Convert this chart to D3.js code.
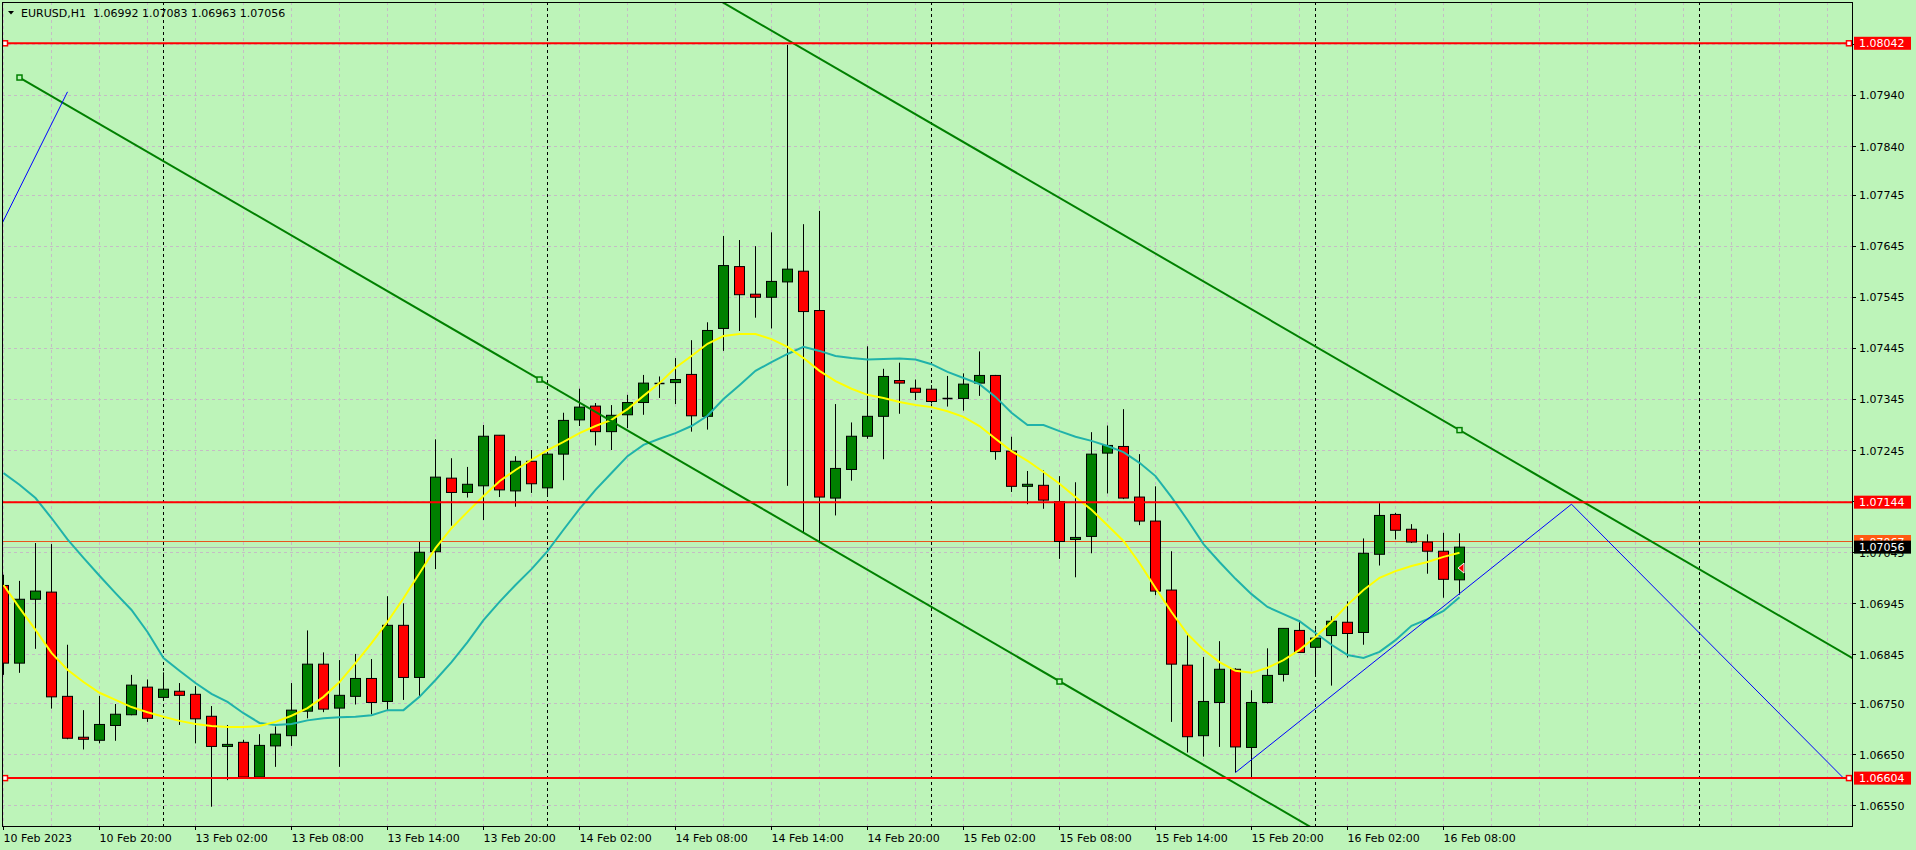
<!DOCTYPE html>
<html>
<head>
<meta charset="utf-8">
<script src="https://cdn.jsdelivr.net/npm/d3@7"></script>
<style>
html,body{margin:0;padding:0;background:#bdf4b9;overflow:hidden;}
svg{display:block;font-family:"DejaVu Sans",sans-serif;}
</style>
</head>
<body>
<svg id="chart" width="1916" height="850"></svg>
<script>
// ---------------- DATA ----------------
const symbolTitle = "EURUSD,H1";
const headerValues = ["1.06992", "1.07083", "1.06963", "1.07056"];

// H1 bars, index 0 = 10 Feb 2023 14:00 ... index 91 = 16 Feb 2023 09:00
const open = [
1.06981,1.06829,1.06954,1.06968,1.06764,1.06684,1.06678,1.06707,1.06728,1.06782,
1.06762,1.06774,1.06768,1.06725,1.06666,1.06674,1.06606,1.06667,1.06687,1.06735,
1.06827,1.06741,1.06764,1.06799,1.06754,1.06903,1.06801,1.07047,1.07191,1.07163,
1.07176,1.07275,1.07166,1.07224,1.07172,1.07238,1.07305,1.07332,1.07282,1.07315,
1.07339,1.07377,1.07378,1.07394,1.07312,1.07484,1.07605,1.07551,1.07545,1.07575,
1.07596,1.07519,1.07152,1.07208,1.07273,1.07312,1.07382,1.07367,1.07365,1.07346,
1.07347,1.07377,1.07392,1.07244,1.07175,1.07177,1.07145,1.07071,1.07077,1.07240,
1.07253,1.07154,1.07107,1.06972,1.06825,1.06687,1.06752,1.06817,1.06664,1.06752,
1.06807,1.06893,1.06860,1.06883,1.06909,1.06889,1.07042,1.07120,1.07091,1.07066,
1.07048,1.06992];
const high = [
1.07002,1.06990,1.07064,1.07062,1.06865,1.06737,1.06765,1.06749,1.06806,1.06797,
1.06811,1.06790,1.06784,1.06745,1.06708,1.06679,1.06690,1.06705,1.06790,1.06893,
1.06850,1.06835,1.06847,1.06837,1.06960,1.06946,1.07066,1.07267,1.07230,1.07213,
1.07295,1.07275,1.07234,1.07246,1.07242,1.07319,1.07366,1.07338,1.07334,1.07354,
1.07393,1.07390,1.07426,1.07461,1.07496,1.07665,1.07657,1.07645,1.07672,1.08039,
1.07688,1.07714,1.07336,1.07300,1.07449,1.07405,1.07417,1.07384,1.07373,1.07391,
1.07396,1.07439,1.07393,1.07272,1.07205,1.07206,1.07195,1.07183,1.07281,1.07294,
1.07326,1.07238,1.07175,1.07048,1.06885,1.06841,1.06872,1.06819,1.06776,1.06858,
1.06897,1.06913,1.06895,1.06921,1.06950,1.07073,1.07142,1.07123,1.07101,1.07081,
1.07084,1.07083];
const low = [
1.06806,1.06810,1.06857,1.06740,1.06680,1.06660,1.06672,1.06677,1.06727,1.06714,
1.06757,1.06708,1.06672,1.06548,1.06600,1.06605,1.06605,1.06626,1.06667,1.06721,
1.06733,1.06626,1.06748,1.06729,1.06737,1.06757,1.06763,1.07013,1.07098,1.07153,
1.07109,1.07154,1.07135,1.07162,1.07158,1.07187,1.07293,1.07255,1.07246,1.07289,
1.07315,1.07348,1.07336,1.07282,1.07286,1.07440,1.07479,1.07505,1.07484,1.07176,
1.07085,1.07064,1.07118,1.07186,1.07268,1.07228,1.07317,1.07344,1.07337,1.07331,
1.07323,1.07352,1.07227,1.07164,1.07140,1.07131,1.07033,1.06997,1.07044,1.07161,
1.07150,1.07099,1.06962,1.06714,1.06654,1.06646,1.06665,1.06615,1.06602,1.06750,
1.06793,1.06850,1.06802,1.06785,1.06840,1.06865,1.07020,1.07071,1.07064,1.07004,
1.06957,1.06963];
const close = [
1.06829,1.06954,1.06970,1.06763,1.06682,1.06680,1.06709,1.06729,1.06786,1.06721,
1.06778,1.06766,1.06720,1.06666,1.06670,1.06606,1.06668,1.06690,1.06737,1.06827,
1.06739,1.06766,1.06799,1.06752,1.06903,1.06801,1.07046,1.07193,1.07163,1.07179,
1.07273,1.07168,1.07224,1.07180,1.07238,1.07304,1.07330,1.07282,1.07314,1.07339,
1.07377,1.07377,1.07384,1.07313,1.07480,1.07607,1.07550,1.07545,1.07576,1.07600,
1.07517,1.07154,1.07210,1.07273,1.07312,1.07390,1.07377,1.07359,1.07341,1.07346,
1.07375,1.07392,1.07243,1.07175,1.07179,1.07148,1.07067,1.07075,1.07238,1.07255,
1.07152,1.07107,1.06970,1.06827,1.06685,1.06754,1.06817,1.06665,1.06752,1.06805,
1.06897,1.06850,1.06878,1.06911,1.06887,1.07044,1.07118,1.07089,1.07066,1.07048,
1.06993,1.07056];

// yellow (fast) moving average
const maFast = [
1.06982,1.06937,1.06894,1.06849,1.06816,1.06792,1.06771,1.06757,1.06743,1.06733,
1.06724,1.06716,1.06710,1.06706,1.06704,1.06704,1.06706,1.06714,1.06726,1.06741,
1.06763,1.06792,1.06829,1.06868,1.06910,1.06956,1.07005,1.07054,1.07093,1.07125,
1.07156,1.07185,1.07207,1.07227,1.07246,1.07262,1.07279,1.07293,1.07305,1.07326,
1.07352,1.07377,1.07407,1.07430,1.07454,1.07469,1.07473,1.07473,1.07463,1.07448,
1.07426,1.07401,1.07381,1.07366,1.07354,1.07348,1.07340,1.07334,1.07330,1.07322,
1.07311,1.07293,1.07268,1.07244,1.07225,1.07203,1.07180,1.07154,1.07129,1.07099,
1.07068,1.07025,1.06976,1.06929,1.06886,1.06855,1.06831,1.06814,1.06810,1.06820,
1.06835,1.06855,1.06880,1.06910,1.06943,1.06972,1.06996,1.07009,1.07019,1.07027,
1.07037,1.07045];
// teal (slow) moving average
const maSlow = [
1.07201,1.07178,1.07152,1.07113,1.07071,1.07035,1.07000,1.06966,1.06933,1.06890,
1.06839,1.06814,1.06790,1.06769,1.06753,1.06731,1.06712,1.06708,1.06710,1.06717,
1.06721,1.06723,1.06724,1.06727,1.06737,1.06737,1.06763,1.06796,1.06831,1.06870,
1.06913,1.06949,1.06982,1.07013,1.07048,1.07090,1.07131,1.07168,1.07201,1.07234,
1.07256,1.07268,1.07279,1.07293,1.07313,1.07346,1.07373,1.07401,1.07418,1.07434,
1.07448,1.07440,1.07430,1.07426,1.07423,1.07424,1.07425,1.07423,1.07414,1.07399,
1.07387,1.07375,1.07350,1.07319,1.07295,1.07295,1.07283,1.07272,1.07264,1.07254,
1.07242,1.07221,1.07195,1.07154,1.07109,1.07062,1.07027,1.06994,1.06964,1.06939,
1.06925,1.06911,1.06888,1.06865,1.06845,1.06839,1.06851,1.06874,1.06902,1.06915,
1.06931,1.06958];

// axes
const yTicks = [1.0804,1.0794,1.0784,1.07745,1.07645,1.07545,1.07445,1.07345,1.07245,1.07145,1.07045,1.06945,1.06845,1.0675,1.0665,1.0655];
const xTickBars = [0,6,12,18,24,30,36,42,48,54,60,66,72,78,84,90];
const xTickLabels = ["10 Feb 2023","10 Feb 20:00","13 Feb 02:00","13 Feb 08:00","13 Feb 14:00","13 Feb 20:00",
  "14 Feb 02:00","14 Feb 08:00","14 Feb 14:00","14 Feb 20:00","15 Feb 02:00","15 Feb 08:00",
  "15 Feb 14:00","15 Feb 20:00","16 Feb 02:00","16 Feb 08:00"];
const daySeparatorBars = [10,34,58,82,106];

// chart objects
const redLevels = [1.08042, 1.07144, 1.06604];
const selectedRedLevels = [1.08042, 1.06604];
const alertLevel = 1.07067;
const bidLevel = 1.07056;
const blueLineA = [[-1, 1.07632],[4, 1.07947]];
const blueZigzag = [[77, 1.06615],[98, 1.07140],[115, 1.06604]];
const channelBase = [[1, 1.07975],[120, 1.05812]];
const channelParallel = [[1, 1.08921],[120, 1.06758]];
const channelAnchors = [[1, 1.07975],[33.5, 1.07384],[66, 1.06793],[91, 1.07285]];
const arrowMarker = {bar: 91, price: 1.07015};

// ---------------- LAYOUT ----------------
const W = 1916, H = 850;
const plot = {left: 2, right: 1852, top: 2, bottom: 826};
const bg = "#bdf4b9";
const gridColor = "#c5bcc5";
const bull = "#008000", bear = "#ff0000";

const x = d3.scaleLinear().domain([-0.09375, 115.53125]).range([plot.left, plot.right]);
const y = d3.scaleLinear().domain([1.0655, 1.0804]).range([805.7, 44.31]);
const crisp = v => Math.round(v - 0.5) + 0.5;

const svg = d3.select("#chart");
svg.append("rect").attr("width", W).attr("height", H).attr("fill", bg);

svg.append("defs").append("clipPath").attr("id", "plotClip").append("rect")
  .attr("x", plot.left + 1).attr("y", plot.top + 1)
  .attr("width", plot.right - plot.left - 1).attr("height", plot.bottom - plot.top - 1);

const g = svg.append("g").attr("clip-path", "url(#plotClip)");

// grid
g.append("g").selectAll("line").data(yTicks).join("line")
  .attr("x1", plot.left).attr("x2", plot.right)
  .attr("y1", d => crisp(y(d))).attr("y2", d => crisp(y(d)))
  .attr("stroke", gridColor).attr("stroke-dasharray", "3,3");
g.append("g").selectAll("line").data(d3.range(0, 116, 3)).join("line")
  .attr("x1", d => x(d)).attr("x2", d => x(d))
  .attr("y1", plot.top).attr("y2", plot.bottom)
  .attr("stroke", gridColor).attr("stroke-dasharray", "3,3");

// day separators
g.append("g").selectAll("line").data(daySeparatorBars).join("line")
  .attr("x1", d => x(d)).attr("x2", d => x(d))
  .attr("y1", plot.top).attr("y2", plot.bottom)
  .attr("stroke", "#000").attr("stroke-dasharray", "3,3");

// bid / alert lines
g.append("line").attr("x1", plot.left).attr("x2", plot.right)
  .attr("y1", crisp(y(bidLevel))).attr("y2", crisp(y(bidLevel)))
  .attr("stroke", "#b4b4b4");
g.append("line").attr("x1", plot.left).attr("x2", plot.right)
  .attr("y1", crisp(y(alertLevel))).attr("y2", crisp(y(alertLevel)))
  .attr("stroke", "#e8561c");

// candles
const idx = d3.range(open.length);
const candles = g.append("g");
candles.selectAll("line").data(idx).join("line")
  .attr("x1", i => x(i)).attr("x2", i => x(i))
  .attr("y1", i => y(high[i])).attr("y2", i => y(low[i]))
  .attr("stroke", "#000").attr("stroke-width", 1);
candles.selectAll("rect").data(idx.filter(i => Math.abs(y(open[i]) - y(close[i])) >= 1)).join("rect")
  .attr("x", i => x(i) - 5).attr("width", 10)
  .attr("y", i => y(Math.max(open[i], close[i])))
  .attr("height", i => Math.abs(y(open[i]) - y(close[i])))
  .attr("fill", i => close[i] >= open[i] ? bull : bear)
  .attr("stroke", "#000").attr("stroke-width", 1);
candles.selectAll("line.doji").data(idx.filter(i => Math.abs(y(open[i]) - y(close[i])) < 1)).join("line")
  .attr("class", "doji")
  .attr("x1", i => x(i) - 5).attr("x2", i => x(i) + 5)
  .attr("y1", i => crisp(y(close[i]))).attr("y2", i => crisp(y(close[i])))
  .attr("stroke", "#000").attr("stroke-width", 1.5);

// moving averages
const maLine = d3.line().x((d, i) => x(i)).y(d => y(d));
g.append("path").datum(maSlow).attr("d", maLine)
  .attr("fill", "none").attr("stroke", "#20b2aa").attr("stroke-width", 2);
g.append("path").datum(maFast).attr("d", maLine)
  .attr("fill", "none").attr("stroke", "#ffff00").attr("stroke-width", 2);

// objects
const objLine = d3.line().x(d => x(d[0])).y(d => y(d[1]));
g.append("path").datum(channelBase).attr("d", objLine)
  .attr("fill", "none").attr("stroke", "#008000").attr("stroke-width", 2);
g.append("path").datum(channelParallel).attr("d", objLine)
  .attr("fill", "none").attr("stroke", "#008000").attr("stroke-width", 2);
g.append("path").datum(blueLineA).attr("d", objLine)
  .attr("fill", "none").attr("stroke", "#0000ff").attr("stroke-width", 1);
g.append("path").datum(blueZigzag).attr("d", objLine)
  .attr("fill", "none").attr("stroke", "#0000ff").attr("stroke-width", 1);

g.append("g").selectAll("line").data(redLevels).join("line")
  .attr("x1", plot.left).attr("x2", plot.right)
  .attr("y1", d => y(d)).attr("y2", d => y(d))
  .attr("stroke", "#ff0000").attr("stroke-width", 2);

// anchors
g.append("g").selectAll("rect").data(channelAnchors).join("rect")
  .attr("x", d => x(d[0]) - 2.5).attr("y", d => y(d[1]) - 2.5)
  .attr("width", 5).attr("height", 5)
  .attr("fill", bg).attr("stroke", "#008000").attr("stroke-width", 1.5);
const hAnchors = [];
selectedRedLevels.forEach(v => { hAnchors.push([plot.left + 3, v]); hAnchors.push([plot.right - 3, v]); });
g.append("g").selectAll("rect").data(hAnchors).join("rect")
  .attr("x", d => d[0] - 2.5).attr("y", d => y(d[1]) - 2.5)
  .attr("width", 5).attr("height", 5)
  .attr("fill", "#fff").attr("stroke", "#ff0000").attr("stroke-width", 1.5);

// arrow marker
{
  const ax = x(arrowMarker.bar) - 1.5, ay = y(arrowMarker.price);
  g.append("path")
    .attr("d", `M${ax},${ay} L${ax + 6},${ay - 5} L${ax + 6},${ay + 5} Z`)
    .attr("fill", "#ff0000").attr("stroke", "#fff").attr("stroke-width", 1);
}

// frame
svg.append("rect").attr("x", plot.left + 0.5).attr("y", plot.top + 0.5)
  .attr("width", plot.right - plot.left).attr("height", plot.bottom - plot.top)
  .attr("fill", "none").attr("stroke", "#000");

// right axis
const yAxis = svg.append("g");
const visTicks = yTicks.filter(v => y(v) > plot.top && y(v) < plot.bottom);
yAxis.selectAll("line").data(visTicks).join("line")
  .attr("x1", plot.right + 1).attr("x2", plot.right + 4)
  .attr("y1", d => crisp(y(d))).attr("y2", d => crisp(y(d)))
  .attr("stroke", "#000");
yAxis.selectAll("text").data(visTicks).join("text")
  .attr("x", 1859).attr("y", d => y(d) + 4)
  .attr("font-size", 11).attr("fill", "#000")
  .text(d => d.toFixed(5));

function priceTag(v, fill) {
  const yy = y(v);
  svg.append("rect").attr("x", 1854).attr("y", yy - 6.5).attr("width", 57).attr("height", 13).attr("fill", fill);
  svg.append("text").attr("x", 1859).attr("y", yy + 4).attr("font-size", 11).attr("fill", "#fff").text(v.toFixed(5));
}
redLevels.forEach(v => priceTag(v, "#ff0000"));
priceTag(alertLevel, "#ff5a14");
priceTag(bidLevel, "#000000");

// bottom axis
const xAxis = svg.append("g");
xAxis.selectAll("line").data(xTickBars).join("line")
  .attr("x1", d => x(d)).attr("x2", d => x(d))
  .attr("y1", plot.bottom + 1).attr("y2", plot.bottom + 4)
  .attr("stroke", "#000");
xAxis.selectAll("text").data(xTickBars).join("text")
  .attr("x", d => x(d)).attr("y", 842)
  .attr("font-size", 11).attr("fill", "#000")
  .text((d, i) => xTickLabels[i]);

// header
svg.append("path").attr("d", "M8,11 L14,11 L11,14.5 Z").attr("fill", "#000");
svg.append("text").attr("x", 21).attr("y", 16.5).attr("font-size", 11).attr("fill", "#000")
  .attr("xml:space", "preserve").style("white-space", "pre")
  .text(symbolTitle + "  " + headerValues.join(" "));
</script>
</body>
</html>
